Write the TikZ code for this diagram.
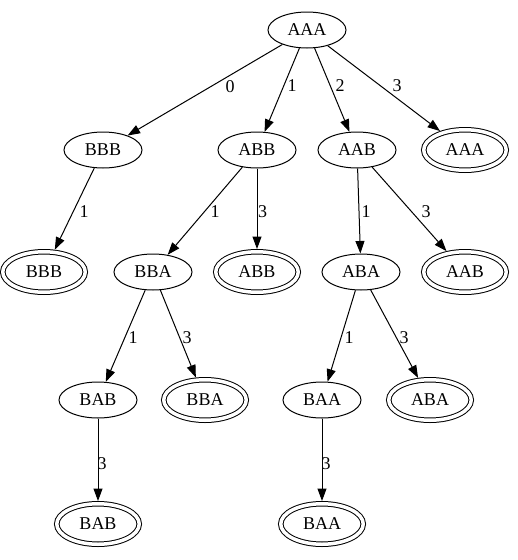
\documentclass[tikz,border=0pt]{standalone}
\usepackage{fontspec}
\setmainfont{Liberation Serif}
\usetikzlibrary{shapes.geometric,arrows.meta}
\tikzset{
  st/.style={ellipse,draw,line width=1pt,minimum width=78pt,minimum height=36pt,inner sep=0pt,font=\fontsize{18}{20}\selectfont},
  acc/.style={ellipse,draw,line width=1pt,double,double distance=3.5pt,minimum width=82.5pt,minimum height=40.5pt,inner sep=0pt,outer sep=2.75pt,font=\fontsize{18}{20}\selectfont},
  edge/.style={line width=1pt,-{Triangle[length=12.5pt,width=9pt]}},
  lbl/.style={inner sep=0pt,font=\fontsize{18}{20}\selectfont}
}
\begin{document}
\begin{tikzpicture}[x=1pt,y=-1pt]
\useasboundingbox (0,0) rectangle (518,560);
\node[st] (aaa) at (307,30) {AAA};
\node[st] (bbb) at (103,150) {BBB};
\node[st] (abb) at (257,150) {ABB};
\node[st] (aab) at (357,150) {AAB};
\node[acc] (aaad) at (465,150) {AAA};
\node[acc] (bbbd) at (44,272) {BBB};
\node[st] (bba) at (153,272) {BBA};
\node[acc] (abbd) at (257,272) {ABB};
\node[st] (aba) at (361,272) {ABA};
\node[acc] (aabd) at (465,272) {AAB};
\node[st] (bab) at (98,400) {BAB};
\node[acc] (bbad) at (205,400) {BBA};
\node[st] (baa) at (322,400) {BAA};
\node[acc] (abad) at (430,400) {ABA};
\node[acc] (babd) at (98,524) {BAB};
\node[acc] (baad) at (322,524) {BAA};
\draw[edge] (aaa) -- (bbb);
\draw[edge] (aaa) -- (abb);
\draw[edge] (aaa) -- (aab);
\draw[edge] (aaa) -- (aaad);
\draw[edge] (bbb) -- (bbbd);
\draw[edge] (abb) -- (bba);
\draw[edge] (abb) -- (abbd);
\draw[edge] (aab) -- (aba);
\draw[edge] (aab) -- (aabd);
\draw[edge] (bba) -- (bab);
\draw[edge] (bba) -- (bbad);
\draw[edge] (aba) -- (baa);
\draw[edge] (aba) -- (abad);
\draw[edge] (bab) -- (babd);
\draw[edge] (baa) -- (baad);
\node[lbl] (l1) at (230,87) {0};
\node[lbl] (l2) at (292,86) {1};
\node[lbl] (l3) at (340,86) {2};
\node[lbl] (l4) at (397,86) {3};
\node[lbl] (l5) at (84,212) {1};
\node[lbl] (l6) at (215,212) {1};
\node[lbl] (l7) at (262.5,212) {3};
\node[lbl] (l8) at (366,212) {1};
\node[lbl] (l9) at (426,212) {3};
\node[lbl] (l10) at (133,338) {1};
\node[lbl] (l11) at (187,338) {3};
\node[lbl] (l12) at (349,338) {1};
\node[lbl] (l13) at (404,338) {3};
\node[lbl] (l14) at (102,464) {3};
\node[lbl] (l15) at (326,464) {3};
\end{tikzpicture}
\end{document}
